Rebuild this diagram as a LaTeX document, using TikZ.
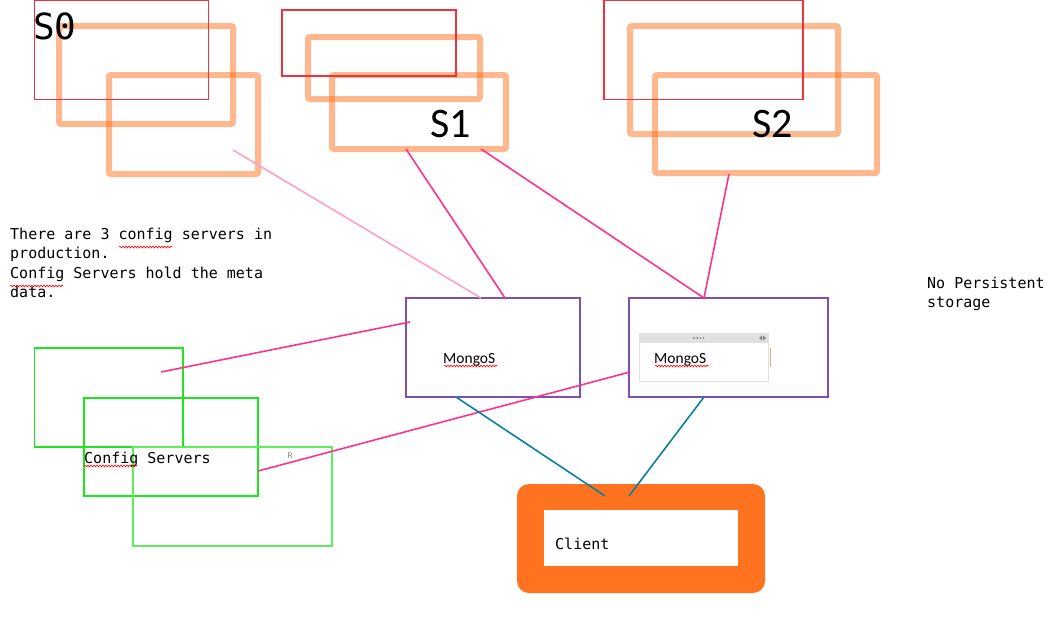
\documentclass[tikz,border=0pt]{standalone}
\usepackage{fontspec}
\usetikzlibrary{decorations.pathmorphing}
\newfontfamily\monof{DejaVu Sans Mono}
\newfontfamily\calf{Carlito}
\definecolor{peach}{RGB}{255,120,40}
\definecolor{redc}{RGB}{240,50,60}
\definecolor{pinkc}{RGB}{255,50,140}
\definecolor{lpink}{RGB}{255,160,200}
\definecolor{tealc}{RGB}{10,128,160}
\definecolor{purpc}{RGB}{125,80,180}
\definecolor{greenc}{RGB}{30,230,30}
\definecolor{lgreen}{RGB}{90,240,90}
\definecolor{clorange}{RGB}{255,115,32}
\definecolor{hdrgray}{RGB}{224,224,224}
\definecolor{tanc}{RGB}{220,170,130}
\tikzset{
  redbox/.style={draw=redc, line width=1.1pt, inner sep=0pt},
  orbox/.style={draw=peach, draw opacity=0.53, line width=6pt, rounded corners=2pt, inner sep=0pt},
  mbox/.style={draw=purpc, line width=1.2pt, inner sep=0pt},
  gbox/.style={draw=greenc, line width=1.5pt, inner sep=0pt},
  link/.style={draw=pinkc, line width=1.6pt},
  tlink/.style={draw=tealc, line width=1.6pt},
  mono/.style={inner sep=0pt, font=\monof\fontsize{15}{18}\selectfont},
  spell/.style={draw=red, line width=0.6pt, decorate, decoration={snake, amplitude=0.9pt, segment length=3pt}}
}
\begin{document}
\begin{tikzpicture}[x=1pt,y=-1pt]
\useasboundingbox[fill=white] (0,0) rectangle (1055,627);

% shard groups
\node[orbox, minimum width=174, minimum height=98] (s0a) at (146,75) {};
\node[orbox, minimum width=149, minimum height=99] (s0b) at (183.5,124.5) {};
\node[redbox, minimum width=174, minimum height=99] (s0r) at (121.5,50) {};
\node[anchor=base west, inner sep=0pt, font=\monof\fontsize{36}{40}\selectfont] (s0t) at (33,39) {S0};

\node[orbox, minimum width=172, minimum height=62] (s1a) at (394,68) {};
\node[orbox, minimum width=174, minimum height=74] (s1b) at (419,112) {};
\node[redbox, minimum width=174, minimum height=66] (s1r) at (369,43) {};
\node[anchor=base west, inner sep=0pt, font=\calf\fontsize{42}{46}\selectfont] (s1t) at (430,137) {S1};

\node[orbox, minimum width=208, minimum height=108] (s2a) at (734,80) {};
\node[orbox, minimum width=222, minimum height=98] (s2b) at (766,124) {};
\node[redbox, minimum width=199, minimum height=99] (s2r) at (703.5,50) {};
\node[anchor=base west, inner sep=0pt, font=\calf\fontsize{42}{46}\selectfont] (s2t) at (752,137) {S2};

% mongos
\node[mbox, minimum width=174, minimum height=99] (m1) at (493,347.5) {};
\node[mbox, minimum width=199, minimum height=99] (m2) at (728.5,347.5) {};
\node[anchor=base west, inner sep=0pt, font=\calf\fontsize{15.5}{18}\selectfont] (m1t) at (443,363) {MongoS};
\node[draw=hdrgray, line width=0.8pt, fill=white, minimum width=129, minimum height=48, inner sep=0pt] (m2box) at (703.5,357) {};
\node[fill=hdrgray, minimum width=129, minimum height=10, inner sep=0pt] (m2hdr) at (703.5,338) {};
\foreach \i in {0,1,2,3} \fill[gray!70!black] (694+\i*3.2,338) circle (0.8);
\fill[gray] (759,338) -- (762,335.5) -- (762,340.5) -- cycle;
\fill[gray] (766,338) -- (763,335.5) -- (763,340.5) -- cycle;
\draw[tanc, line width=1pt] (770,348) -- (770,367);
\node[anchor=base west, inner sep=0pt, font=\calf\fontsize{15.5}{18}\selectfont] (m2t) at (654,363) {MongoS};

% config servers
\node[gbox, minimum width=148.5, minimum height=99] (g1) at (108.75,397.5) {};
\node[gbox, minimum width=174, minimum height=98] (g2) at (171,447) {};
\node[gbox, draw=lgreen, minimum width=199, minimum height=99] (g3) at (232.5,496.5) {};
\node[mono, anchor=base west] (cfg) at (84,463) {Config Servers};
\node[inner sep=0pt, font=\sffamily\fontsize{8}{9}\selectfont, text=gray] (rmark) at (290,456) {R};

% client
\node[fill=clorange, rounded corners=12pt, minimum width=248, minimum height=109, inner sep=0pt] (cl) at (641,538.5) {};
\node[fill=white, minimum width=194, minimum height=56, inner sep=0pt] (cli) at (641,538) {};
\node[mono, anchor=base west] (clt) at (555,549) {Client};

% texts
\node[mono, anchor=base west] (n1) at (10,239) {There are 3 config servers in};
\node[mono, anchor=base west] (n2) at (10,258) {production.};
\node[mono, anchor=base west] (n3) at (10,278) {Config Servers hold the meta};
\node[mono, anchor=base west] (n4) at (10,297) {data.};
\node[mono, anchor=base west] (np1) at (927,288) {No Persistent};
\node[mono, anchor=base west] (np2) at (927,307) {storage};

% spelling marks
\draw[spell] (119,247) -- (172,247);
\draw[spell] (10,286) -- (63,286);
\draw[spell] (84,466) -- (137,466);
\draw[spell] (444,366) -- (497,366);
\draw[spell] (655,366) -- (709,366);

% connector end points
\coordinate (a0) at (233,150);
\coordinate (a1) at (481,298);
\coordinate (b0) at (406,149);
\coordinate (b1) at (505,298);
\coordinate (c0) at (481,149);
\coordinate (c1) at (704,298);
\coordinate (d0) at (729,174);
\coordinate (e0) at (161,372);
\coordinate (e1) at (410,322);
\coordinate (f0) at (258,471);
\coordinate (f1) at (630,372);
\coordinate (h0) at (456,397);
\coordinate (h1) at (605,496);
\coordinate (k0) at (704,397);
\coordinate (k1) at (629,496);

\draw[link, draw=lpink] (a0) -- (a1);
\draw[link] (b0) -- (b1);
\draw[link] (c0) -- (c1);
\draw[link] (d0) -- (c1);
\draw[link] (e0) -- (e1);
\draw[link] (f0) -- (f1);
\draw[tlink] (h0) -- (h1);
\draw[tlink] (k0) -- (k1);
\end{tikzpicture}
\end{document}
